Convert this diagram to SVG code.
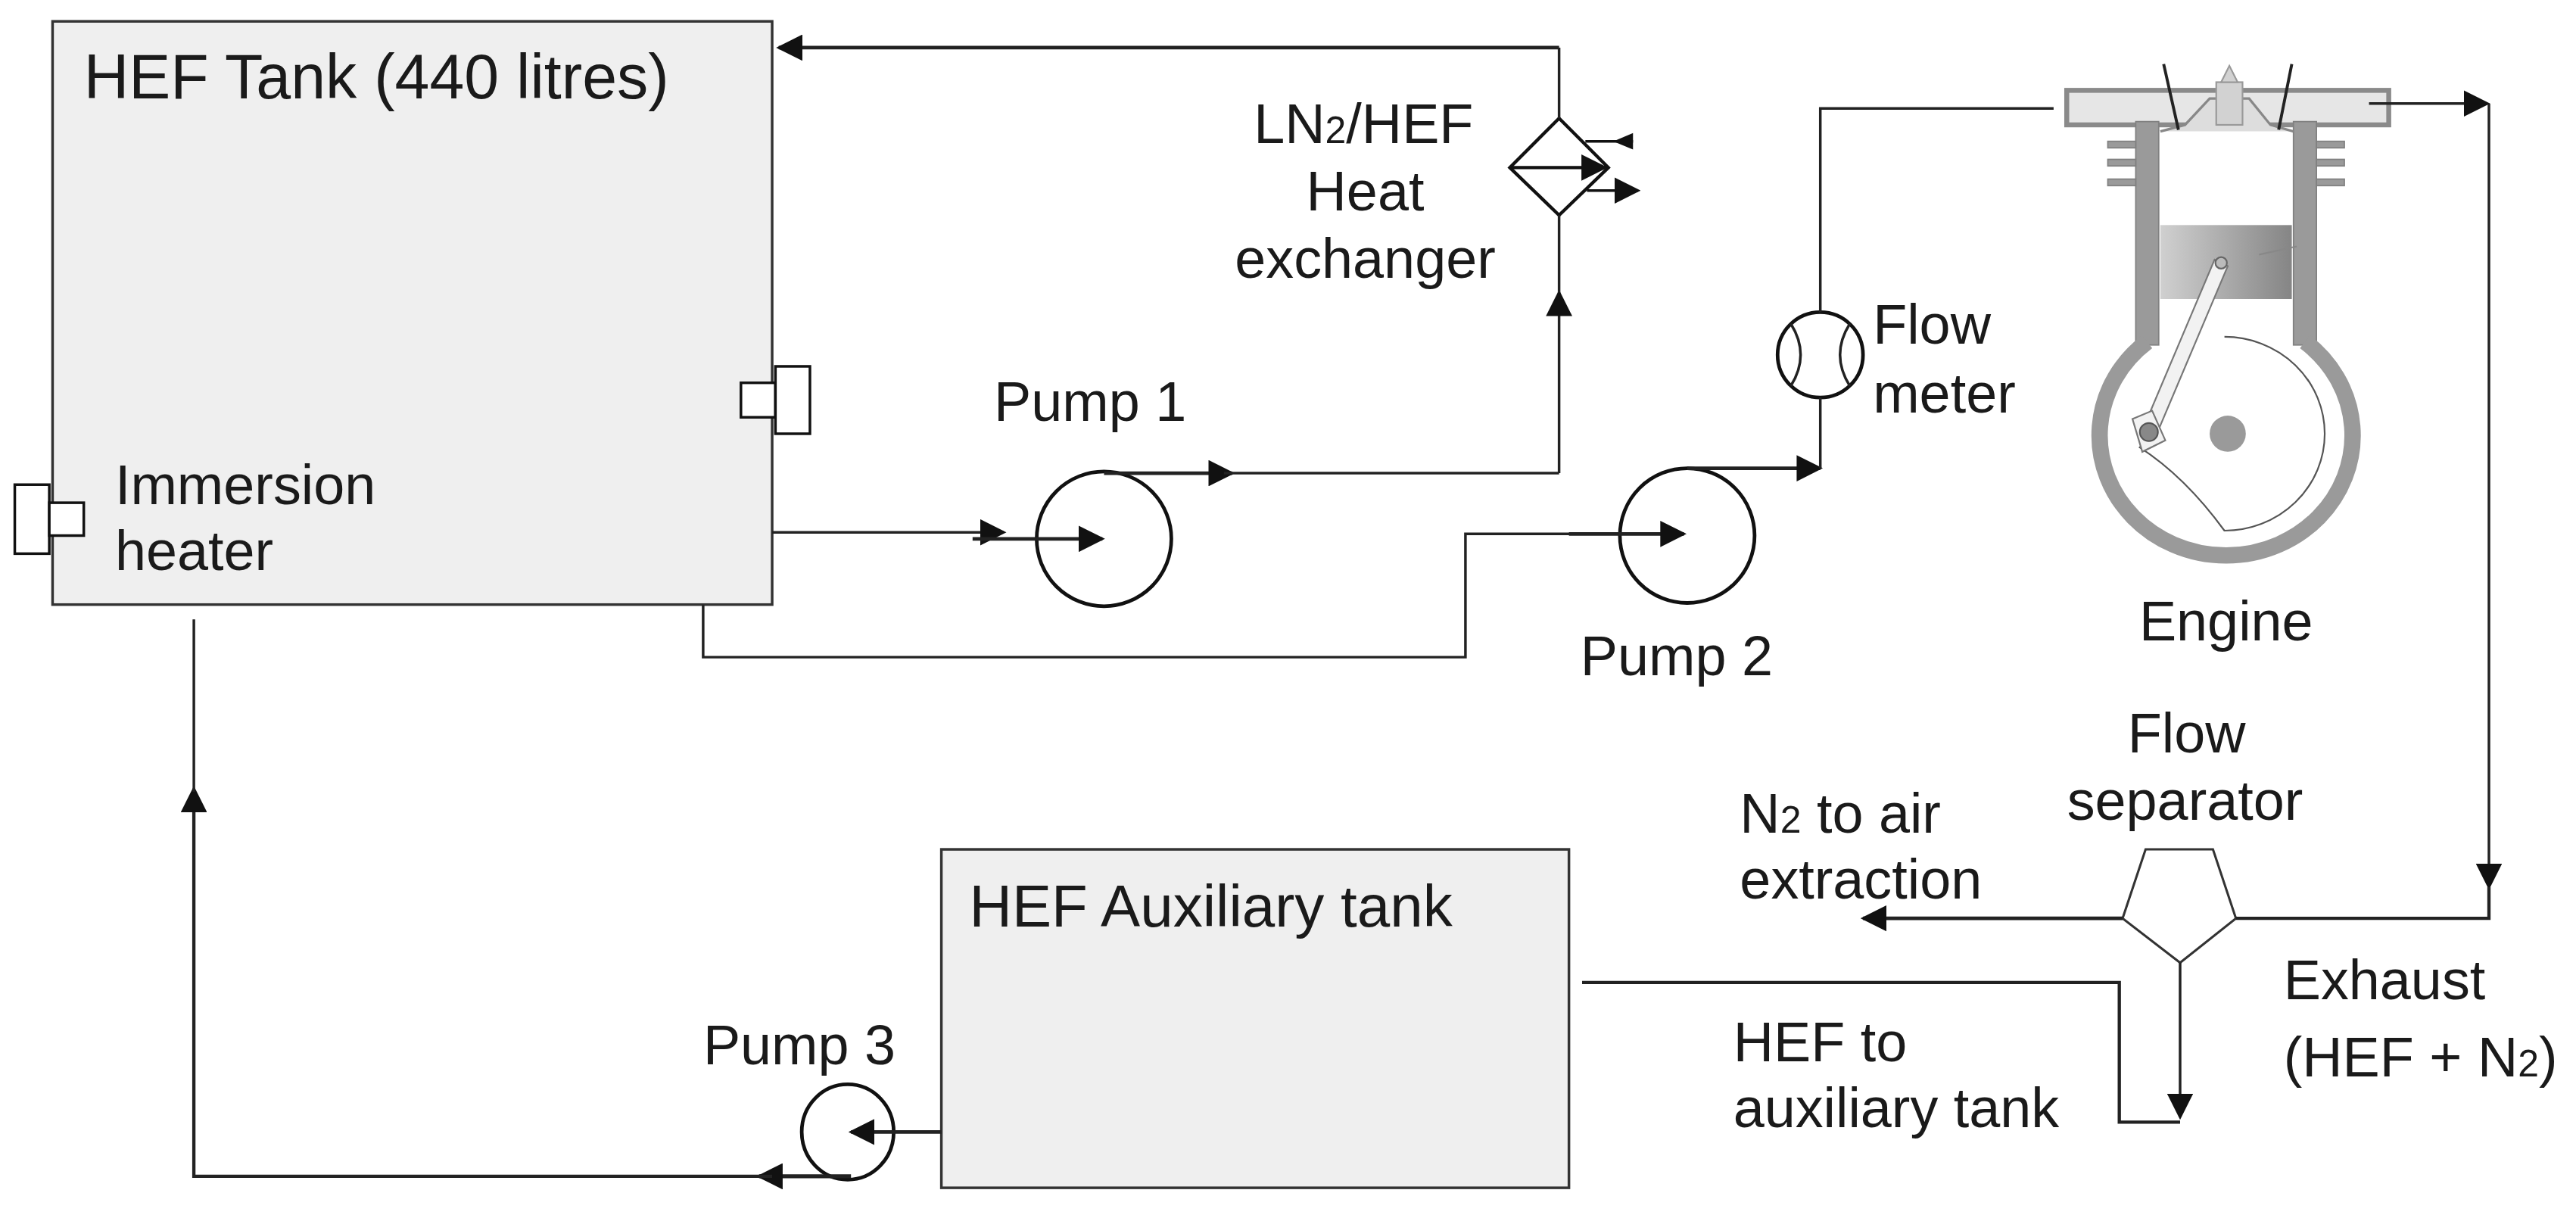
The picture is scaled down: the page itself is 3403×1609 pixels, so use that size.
<svg xmlns="http://www.w3.org/2000/svg" width="3403" height="1609" viewBox="0 0 3403 1609">
<style>
.t{font-family:"Liberation Sans",Arial,sans-serif;font-size:34px;fill:#1a1a1a}
.s{font-size:23px}
.ln{fill:none;stroke:#222;stroke-width:1.6}
.tk{fill:#efefef;stroke:#333;stroke-width:1.6}
.pc{fill:#fff;stroke:#111;stroke-width:2.2}
.eg{fill:#9a9a9a;stroke:#808080;stroke-width:0.8}
</style>
<defs>
<marker id="a" viewBox="0 0 10 10" refX="9" refY="5" markerWidth="16" markerHeight="16" markerUnits="userSpaceOnUse" orient="auto"><path d="M0,0L10,5L0,10z" fill="#111"/></marker>
<linearGradient id="pg" x1="0" x2="1"><stop offset="0" stop-color="#d0d0d0"/><stop offset="1" stop-color="#858585"/></linearGradient>
</defs>
<rect width="3403" height="1609" fill="#fff"/>
<g transform="scale(2.1703)">
<g id="tank">
<rect class="tk" x="32" y="13" width="438" height="355"/>
<text class="t" x="51" y="60" style="font-size:38px">HEF Tank (440 litres)</text>
<rect x="451" y="233" width="21" height="21" fill="#fff" stroke="#111" stroke-width="1.6"/>
<rect x="472" y="223" width="21" height="41" fill="#fff" stroke="#111" stroke-width="1.6"/>
<rect x="9" y="295" width="21" height="42" fill="#fff" stroke="#111" stroke-width="1.6"/>
<rect x="30" y="306" width="21" height="20" fill="#fff" stroke="#111" stroke-width="1.6"/>
<text class="t" x="70" y="307">Immersion</text>
<text class="t" x="70" y="347">heater</text>
</g>
<g id="hx">
<path d="M949,72L979,102L949,131L919,102Z" fill="#fff" stroke="#111" stroke-width="2"/>
<line x1="920" y1="102" x2="977" y2="102" stroke="#111" stroke-width="2" marker-end="url(#a)"/>
<line x1="965" y1="86" x2="994" y2="86" stroke="#111" stroke-width="1.6"/>
<path d="M994,81L982,86L994,91Z" fill="#111"/>
<line x1="966" y1="116" x2="997" y2="116" stroke="#111" stroke-width="1.6" marker-end="url(#a)"/>
<text class="t" x="830" y="87" text-anchor="middle">LN<tspan class="s">2</tspan>/HEF</text>
<text class="t" x="831" y="128" text-anchor="middle">Heat</text>
<text class="t" x="831" y="169" text-anchor="middle">exchanger</text>
</g>
<g id="pump1">
<circle class="pc" cx="672" cy="328" r="41"/>
<text class="t" x="605" y="256">Pump 1</text>
</g>
<g id="pump2">
<circle class="pc" cx="1027" cy="326" r="41"/>
<text class="t" x="962" y="411">Pump 2</text>
</g>
<g id="flowmeter">
<circle class="pc" cx="1108" cy="216" r="26"/>
<path class="ln" d="M1090,197Q1102,216 1090,235M1126,197Q1114,216 1126,235" stroke-width="1.8"/>
<text class="t" x="1140" y="209">Flow</text>
<text class="t" x="1140" y="251">meter</text>
</g>
<g id="engine">
<rect x="1258" y="55" width="196" height="21" fill="#e6e6e6" stroke="#8a8a8a" stroke-width="3"/>
<rect class="eg" x="1300" y="74" width="14" height="136"/>
<rect class="eg" x="1396" y="74" width="14" height="136"/>
<path d="M1315,80L1330,76L1345,60L1369,60L1382,76L1396,80" fill="#ddd" stroke="#888" stroke-width="1.5"/>
<rect x="1349" y="50" width="16" height="26" fill="#d2d2d2" stroke="#999"/>
<path d="M1352,50L1357,40L1362,50Z" fill="#d2d2d2" stroke="#999"/>
<line x1="1317" y1="39" x2="1326" y2="79" stroke="#222" stroke-width="1.8"/>
<line x1="1395" y1="39" x2="1387" y2="79" stroke="#222" stroke-width="1.8"/>
<rect class="eg" x="1283" y="86" width="17" height="4"/>
<rect class="eg" x="1283" y="97" width="17" height="4"/>
<rect class="eg" x="1283" y="109" width="17" height="4"/>
<rect class="eg" x="1410" y="86" width="17" height="4"/>
<rect class="eg" x="1410" y="97" width="17" height="4"/>
<rect class="eg" x="1410" y="109" width="17" height="4"/>
<path d="M1307,208A77,73 0 1 0 1403,208" fill="none" stroke="#9a9a9a" stroke-width="10"/>
<path d="M1354,205A60,58 0 0 1 1354,323Q1330,290 1302,272" fill="#fff" stroke="#555" stroke-width="1"/>
<rect x="1315" y="137" width="80" height="45" fill="url(#pg)"/>
<line x1="1375" y1="155" x2="1398" y2="150" stroke="#888"/>
<path d="M1348,158L1356,162L1312,266L1304,262Z" fill="#f2f2f2" stroke="#777"/>
<path d="M1298,255L1310,250L1318,268L1304,275Z" fill="#f2f2f2" stroke="#777"/>
<circle cx="1352" cy="160" r="3.5" fill="#bbb" stroke="#666"/>
<circle cx="1308" cy="263" r="5.5" fill="#888" stroke="#555"/>
<circle cx="1356" cy="264" r="11" fill="#9a9a9a"/>
<text class="t" x="1355" y="390" text-anchor="middle">Engine</text>
</g>
<g id="separator">
<path d="M1306,517L1347,517L1361,559L1327,586L1292,559Z" fill="#fff" stroke="#333" stroke-width="1.4"/>
<text class="t" x="1331" y="458" text-anchor="middle">Flow</text>
<text class="t" x="1330" y="499" text-anchor="middle">separator</text>
</g>
<g id="auxtank">
<rect class="tk" x="573" y="517" width="382" height="206"/>
<text class="t" x="590" y="564" style="font-size:36px">HEF Auxiliary tank</text>
</g>
<g id="pump3">
<ellipse class="pc" cx="516" cy="689" rx="28" ry="29"/>
<text class="t" x="428" y="648">Pump 3</text>
</g>
<g id="labels">
<text class="t" x="1059" y="507">N<tspan class="s">2</tspan> to air</text>
<text class="t" x="1059" y="547">extraction</text>
<text class="t" x="1390" y="608">Exhaust</text>
<text class="t" x="1390" y="655">(HEF + N<tspan class="s">2</tspan>)</text>
<text class="t" x="1055" y="646">HEF to</text>
<text class="t" x="1055" y="686">auxiliary tank</text>
</g>
<g id="connectors" class="ln">
<line x1="949" y1="29" x2="474" y2="29" marker-end="url(#a)" stroke-width="2.2"/>
<line x1="949" y1="29" x2="949" y2="72"/>
<line x1="949" y1="288" x2="949" y2="178" marker-end="url(#a)"/>
<line x1="949" y1="178" x2="949" y2="131"/>
<line x1="672" y1="288" x2="750" y2="288" marker-end="url(#a)" stroke-width="2.2"/>
<path d="M745,288L949,288"/>
<line x1="470" y1="324" x2="611" y2="324" marker-end="url(#a)"/>
<line x1="592" y1="328" x2="671" y2="328" marker-end="url(#a)" stroke-width="2.2"/>
<path d="M428,368L428,400L892,400L892,325L960,325"/>
<line x1="955" y1="325" x2="1025" y2="325" marker-end="url(#a)" stroke-width="2.2"/>
<line x1="1027" y1="285" x2="1108" y2="285" marker-end="url(#a)" stroke-width="2.2"/>
<path d="M1108,285L1108,242M1108,190L1108,66L1250,66"/>
<line x1="1442" y1="63" x2="1514" y2="63" marker-end="url(#a)"/>
<line x1="1515" y1="63" x2="1515" y2="540" marker-end="url(#a)"/>
<path d="M1515,540L1515,559L1361,559" stroke-width="2"/>
<line x1="1292" y1="559" x2="1134" y2="559" marker-end="url(#a)" stroke-width="2.2"/>
<line x1="1327" y1="586" x2="1327" y2="680" marker-end="url(#a)"/>
<path d="M1327,683L1290,683L1290,598L963,598" stroke-width="2"/>
<line x1="573" y1="689" x2="518" y2="689" marker-end="url(#a)" stroke-width="2.2"/>
<line x1="518" y1="716" x2="462" y2="716" marker-end="url(#a)" stroke-width="2.4"/>
<path d="M470,716L118,716L118,485" stroke-width="2"/>
<line x1="118" y1="520" x2="118" y2="480" marker-end="url(#a)"/>
<line x1="118" y1="482" x2="118" y2="377"/>
</g>
</g>
</svg>
